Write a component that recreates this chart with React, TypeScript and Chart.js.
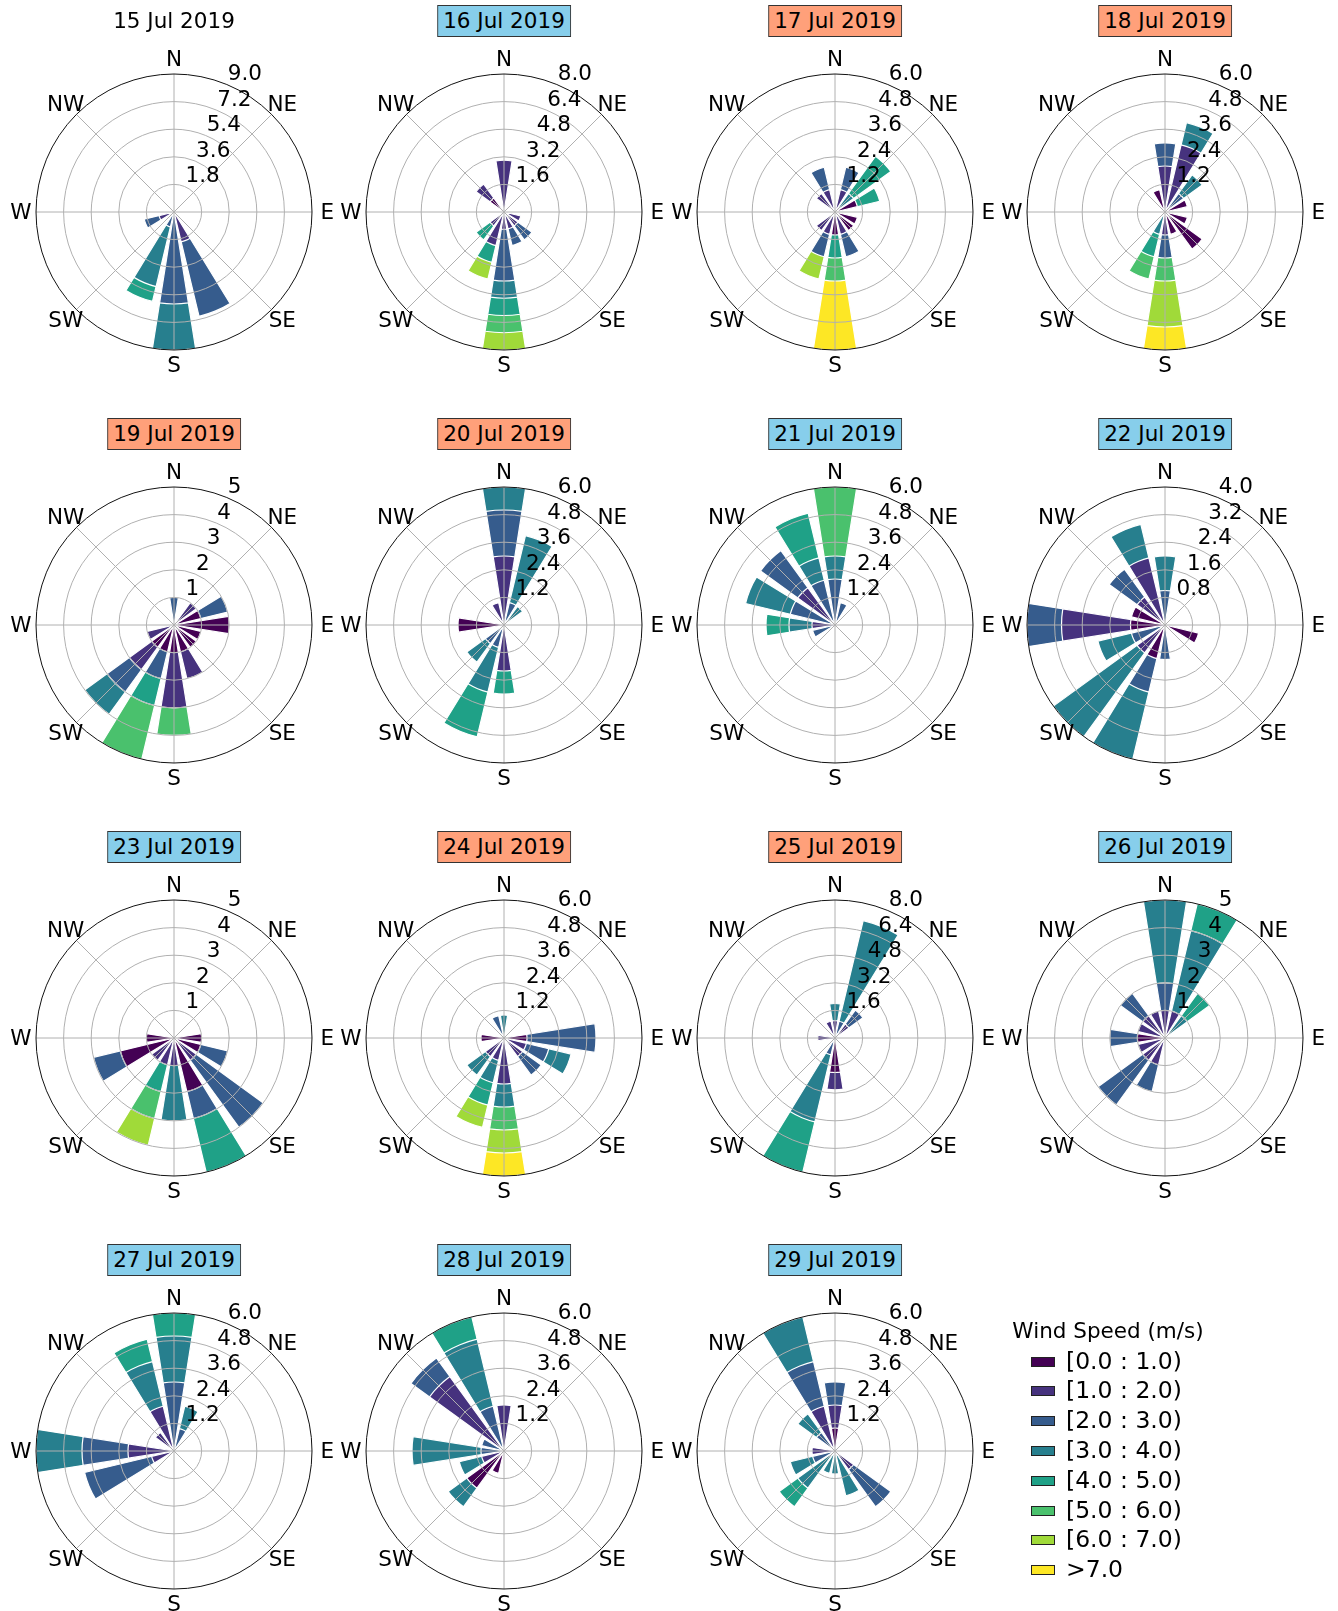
import React, { useEffect, useRef } from "react";
import { Chart, registerables } from "chart.js";

Chart.register(...registerables);

const FONT = '"DejaVu Sans", "Liberation Sans", sans-serif';

// 16 direction sectors, clockwise from north
const SECTORS = ["N", "NNE", "NE", "ENE", "E", "ESE", "SE", "SSE", "S", "SSW", "SW", "WSW", "W", "WNW", "NW", "NNW"];
const COMPASS = ["N", "NE", "E", "SE", "S", "SW", "W", "NW"];
const SPEED_BINS = ["[0.0 : 1.0)", "[1.0 : 2.0)", "[2.0 : 3.0)", "[3.0 : 4.0)", "[4.0 : 5.0)", "[5.0 : 6.0)", "[6.0 : 7.0)", ">7.0"];
const BIN_COLORS = ["#440154", "#46327e", "#365c8d", "#277f8e", "#1fa187", "#4ac16d", "#a0da39", "#fde725"];

// Hourly counts per sector (N..NNW); each inner list holds counts per speed bin.
const jul15: number[][] = [
  [], [], [], [], [], [], [], [0, 2, 5],
  [0, 0, 6, 3], [0, 0, 1, 4, 1], [], [0, 1, 1], [], [], [], [],
];
const jul16: number[][] = [
  [0, 3], [], [], [], [], [0, 1], [0, 1, 1], [0, 1, 1],
  [0, 1, 3, 1, 1, 1, 1], [0, 2, 0, 0, 1, 0, 1], [0, 1, 0, 0, 1], [], [], [], [1, 1], [],
];
const jul17: number[][] = [
  [], [0, 1, 1], [0, 0, 0, 1, 2], [1, 0, 0, 0, 1], [], [1], [1], [0, 1, 1],
  [1, 0, 0, 0, 1, 1, 0, 3], [0, 1, 1, 0, 0, 0, 1], [0, 1], [], [], [], [0, 1], [0, 1, 1],
];
const jul18: number[][] = [
  [0, 2, 1], [0, 3, 0, 1], [0, 0, 1, 1], [1], [], [1], [2], [1],
  [0, 1, 1, 0, 0, 1, 2, 1], [0, 0, 0, 1, 1, 1], [], [], [], [], [], [1],
];
const jul19: number[][] = [
  [0, 0, 1], [], [0, 1], [1, 0, 1], [2], [1], [1], [1, 1],
  [1, 2, 0, 0, 0, 1], [1, 0, 1, 0, 1, 2], [1, 1, 1, 1], [0, 1], [], [], [], [],
];
const jul20: number[][] = [
  [0, 3, 2, 1], [0, 0, 1, 3], [0, 0, 0, 1], [], [], [], [], [],
  [0, 2, 0, 0, 1], [0, 0, 1, 2, 2], [0, 0, 1, 1], [], [2], [], [], [0, 1],
];
const jul21: number[][] = [
  [0, 0, 2, 1, 0, 3], [0, 0, 1], [], [], [], [], [], [],
  [], [], [], [0, 0, 1], [0, 1, 0, 1, 1], [0, 0, 2, 2], [0, 2, 2], [0, 0, 2, 1, 2],
];
const jul22: number[][] = [
  [0, 0, 1, 1], [], [], [], [], [1], [], [],
  [0, 0, 1], [1, 0, 1, 2], [0, 1, 0, 3], [0, 0, 1, 1], [1, 2, 1], [1], [0, 1, 1], [0, 2, 0, 1],
];
const jul23: number[][] = [
  [], [], [], [], [1], [1, 0, 1], [0, 1, 3], [2, 0, 1, 0, 2],
  [0, 1, 0, 2], [0, 1, 0, 0, 1, 1, 1], [0, 1], [2, 0, 1], [1], [], [], [],
];
const jul24: number[][] = [
  [0, 0, 0, 1], [], [], [], [1, 0, 3], [0, 1, 1, 1], [0, 1, 1], [],
  [0, 2, 0, 1, 0, 1, 1, 1], [0, 1, 0, 1, 1, 0, 1], [0, 1, 0, 1], [], [1], [], [], [0, 0, 1],
];
const jul25: number[][] = [
  [0, 1, 0, 1], [0, 0, 1, 6], [0, 1, 1], [], [], [], [], [],
  [2, 1], [0, 0, 1, 4, 3], [], [], [0, 1], [], [], [0, 1],
];
const jul26: number[][] = [
  [0, 1, 1, 3], [0, 1, 0, 3, 1], [0, 0, 0, 1, 1], [], [], [], [], [],
  [], [0, 1, 1], [0, 1, 2], [0, 1], [1, 0, 1], [0, 1], [0, 1, 1], [0, 1],
];
const jul27: number[][] = [
  [0, 0, 3, 2, 1], [0, 0, 1, 1], [], [], [], [], [], [],
  [], [], [], [0, 1, 3], [0, 2, 2, 2], [], [0, 1], [0, 2, 0, 2, 1],
];
const jul28: number[][] = [
  [0, 2], [], [], [], [], [], [], [],
  [], [1], [2, 0, 0, 1], [0, 1, 0, 1], [0, 0, 1, 3], [0, 0, 1], [0, 4, 1], [0, 0, 2, 3, 1],
];
const jul29: number[][] = [
  [1, 1, 1], [], [], [], [], [], [0, 1, 2], [0, 0, 0, 2],
  [0, 0, 0, 1], [0, 0, 0, 1], [0, 0, 0, 2, 1], [0, 0, 1, 1], [0, 1], [], [0, 0, 1, 1], [0, 2, 2, 2],
];

const DAY_TITLES = [
  "15 Jul 2019", "16 Jul 2019", "17 Jul 2019", "18 Jul 2019",
  "19 Jul 2019", "20 Jul 2019", "21 Jul 2019", "22 Jul 2019",
  "23 Jul 2019", "24 Jul 2019", "25 Jul 2019", "26 Jul 2019",
  "27 Jul 2019", "28 Jul 2019", "29 Jul 2019",
];
const DAY_COUNTS = [jul15, jul16, jul17, jul18, jul19, jul20, jul21, jul22, jul23, jul24, jul25, jul26, jul27, jul28, jul29];
const DAY_BADGE = ["", "cool", "warm", "warm", "warm", "warm", "cool", "cool", "cool", "warm", "warm", "cool", "cool", "cool", "cool"];
const BADGE_FILL: Record<string, string> = { cool: "#87ceeb", warm: "#ffa07a" };

// page geometry
const COL_X = [174, 504, 835, 1165];
const ROW_Y = [212, 625, 1038, 1451];
const CANVAS = 360;
const RADIUS = 138;
const BAR_SPAN = 18; // degrees covered by one sector bar
const GAP_SPAN = 22.5 - BAR_SPAN;

function roseFrame(rmax: number) {
  const step = rmax / 5;
  const fmt = (v: number) => (Number.isInteger(step) ? v.toFixed(0) : v.toFixed(1));
  return {
    id: "roseFrame",
    afterDatasetsDraw(chart: any) {
      const scale = chart.scales.r;
      const ctx: CanvasRenderingContext2D = chart.ctx;
      const x0 = scale.xCenter;
      const y0 = scale.yCenter;
      const outer = scale.getDistanceFromCenterForValue(rmax);
      ctx.save();
      ctx.lineWidth = 1.0;
      ctx.strokeStyle = "#b0b0b0";
      for (let k = 1; k < 5; k++) {
        const r = scale.getDistanceFromCenterForValue(step * k);
        ctx.beginPath();
        ctx.arc(x0, y0, r, 0, Math.PI * 2);
        ctx.stroke();
      }
      ctx.beginPath();
      for (let i = 0; i < 8; i++) {
        const t = (i * Math.PI) / 4;
        ctx.moveTo(x0, y0);
        ctx.lineTo(x0 + outer * Math.sin(t), y0 - outer * Math.cos(t));
      }
      ctx.stroke();
      ctx.strokeStyle = "#111111";
      ctx.lineWidth = 1.0;
      ctx.beginPath();
      ctx.arc(x0, y0, outer, 0, Math.PI * 2);
      ctx.stroke();

      ctx.fillStyle = "#000000";
      ctx.font = `21.5px ${FONT}`;
      ctx.textAlign = "left";
      ctx.textBaseline = "alphabetic";
      const a = Math.PI / 8;
      for (let k = 1; k <= 5; k++) {
        const r = scale.getDistanceFromCenterForValue(step * k);
        ctx.fillText(fmt(step * k), x0 + r * Math.sin(a) + 1, y0 - r * Math.cos(a) - 4.5);
      }
      ctx.textAlign = "center";
      COMPASS.forEach((lab, i) => {
        const t = (i * Math.PI) / 4;
        const r = outer * 1.11;
        ctx.fillText(lab, x0 + r * Math.sin(t), y0 - r * Math.cos(t) + 7);
      });
      ctx.restore();
    },
  };
}

function WindRose({ counts, cx, cy }: { counts: number[][]; cx: number; cy: number }) {
  const ref = useRef<HTMLCanvasElement>(null);
  useEffect(() => {
    const totals = counts.map((bins) => bins.reduce((s, v) => s + v, 0));
    const rmax = Math.max(...totals);
    const datasets = BIN_COLORS.map((color, k) => ({
      label: SPEED_BINS[k],
      data: counts.flatMap((bins) => {
        const here = bins[k] || 0;
        const cum = bins.slice(0, k + 1).reduce((s, v) => s + v, 0);
        return [here > 0 ? cum : 0, 0];
      }),
      backgroundColor: (c: any) => (c.dataIndex % 2 ? "rgba(0,0,0,0)" : color),
      borderColor: "#ffffff",
      borderWidth: (c: any) => (c.dataIndex % 2 || !c.raw ? 0 : 1.2),
      angle: (c: any) => (c.dataIndex % 2 ? GAP_SPAN : BAR_SPAN),
    }));
    const pad = CANVAS / 2 - RADIUS;
    const chart = new Chart(ref.current as HTMLCanvasElement, {
      type: "polarArea",
      data: {
        labels: SECTORS.flatMap((s) => [s, ""]),
        datasets: datasets as any,
      },
      options: {
        responsive: false,
        animation: false,
        devicePixelRatio: 1,
        events: [],
        layout: { padding: pad },
        plugins: { legend: { display: false }, tooltip: { enabled: false } },
        scales: {
          r: {
            min: 0,
            max: rmax,
            startAngle: -BAR_SPAN / 2,
            ticks: { display: false, stepSize: rmax / 5 },
            grid: { display: false },
            angleLines: { display: false },
            pointLabels: { display: false },
          },
        },
      },
      plugins: [roseFrame(rmax)],
    } as any);
    return () => chart.destroy();
  }, [counts]);
  return (
    <canvas
      ref={ref}
      width={CANVAS}
      height={CANVAS}
      style={{ position: "absolute", left: cx - CANVAS / 2, top: cy - CANVAS / 2, width: CANVAS, height: CANVAS }}
    />
  );
}

function DayTitle({ text, badge, cx, cy }: { text: string; badge: string; cx: number; cy: number }) {
  const boxed = badge !== "";
  return (
    <div
      style={{
        position: "absolute",
        left: cx,
        top: boxed ? cy - 1.5 : cy - 2.5,
        transform: "translate(-50%, -50%)",
        fontFamily: FONT,
        fontSize: 21.5,
        lineHeight: "29px",
        paddingBottom: boxed ? 1 : 0,
        paddingLeft: 5,
        paddingRight: 5,
        whiteSpace: "nowrap",
        color: "#000",
        background: boxed ? BADGE_FILL[badge] : "transparent",
        border: boxed ? "1.2px solid #333" : "1.2px solid transparent",
      }}
    >
      {text}
    </div>
  );
}

function SpeedLegend() {
  return (
    <div style={{ position: "absolute", left: 0, top: 0, fontFamily: FONT, color: "#000" }}>
      <div
        style={{
          position: "absolute",
          left: 1108,
          top: 1330,
          transform: "translate(-50%, -50%)",
          fontSize: 21.5,
          whiteSpace: "nowrap",
        }}
      >
        Wind Speed (m/s)
      </div>
      {SPEED_BINS.map((lab, k) => {
        const y = 1360.5 + k * 29.8;
        return (
          <React.Fragment key={lab}>
            <div
              style={{
                position: "absolute",
                left: 1031,
                top: y - 4,
                width: 22,
                height: 8,
                background: BIN_COLORS[k],
                border: "1px solid #222",
              }}
            />
            <div
              style={{
                position: "absolute",
                left: 1066,
                top: y,
                transform: "translateY(-50%)",
                fontSize: 23.5,
                lineHeight: "28px",
                whiteSpace: "nowrap",
              }}
            >
              {lab}
            </div>
          </React.Fragment>
        );
      })}
    </div>
  );
}

export default function App() {
  return (
    <div
      style={{
        position: "absolute",
        left: 0,
        top: 0,
        width: 1338,
        height: 1611,
        overflow: "hidden",
        background: "#ffffff",
      }}
    >
      {DAY_COUNTS.map((counts, i) => {
        const cx = COL_X[i % 4];
        const cy = ROW_Y[Math.floor(i / 4)];
        return (
          <React.Fragment key={DAY_TITLES[i]}>
            <WindRose counts={counts} cx={cx} cy={cy} />
            <DayTitle text={DAY_TITLES[i]} badge={DAY_BADGE[i]} cx={cx} cy={cy - 189.5} />
          </React.Fragment>
        );
      })}
      <SpeedLegend />
    </div>
  );
}
